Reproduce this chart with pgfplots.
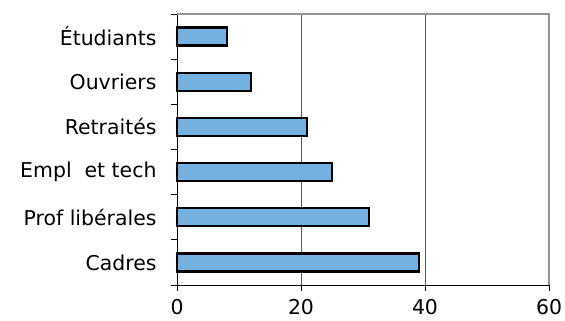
\documentclass[border=0pt]{standalone}
\usepackage{pgfplots}
\pgfplotsset{compat=1.18}
\usepackage{fontspec}
\setmainfont{DejaVu Sans}
\definecolor{barblue}{RGB}{116,176,224}
\definecolor{bordergray}{RGB}{150,150,152}
\begin{document}
\begin{tikzpicture}
\begin{axis}[
  name=ax,
  scale only axis,
  width=372bp, height=271bp,
  xmin=0, xmax=60,
  ymin=-0.5, ymax=5.5,
  xbar,
  bar width=18bp,
  axis x line*=bottom,
  axis y line*=left,
  axis line style={black, line width=0.8pt},
  xtick={0,20,40,60},
  ytick={0,1,2,3,4,5},
  yticklabels={Cadres,Prof libérales,Empl~~et tech~,Retraités,Ouvriers,Étudiants},
  minor ytick={-0.5,0.5,1.5,2.5,3.5,4.5,5.5},
  major tick length=6bp,
  minor tick length=6bp,
  ytick style={draw=none},
  minor y tick style={draw=black, line width=0.8pt},
  xtick style={black, line width=0.8pt},
  tick align=outside,
  xmajorgrids,
  grid style={draw=black!65, line width=0.8pt},
  /pgf/number format/assume math mode=true,
  ticklabel style={font=\fontsize{20.5}{24}\selectfont},
  yticklabel style={xshift=-11bp},
  xticklabel style={yshift=-5bp},
  clip=false,
]
\addplot[fill=barblue, draw=black, line width=2.2pt] coordinates {
  (39,0) (31,1) (25,2) (21,3) (12,4) (8,5)
};
\draw[bordergray, line width=1.6pt] (rel axis cs:0,1) -- (rel axis cs:1,1) -- (rel axis cs:1,0);
\end{axis}
\pgfresetboundingbox
\path[use as bounding box] ([shift={(-177bp,-35bp)}]ax.south west) rectangle ([shift={(16bp,14bp)}]ax.north east);
\end{tikzpicture}
\end{document}
